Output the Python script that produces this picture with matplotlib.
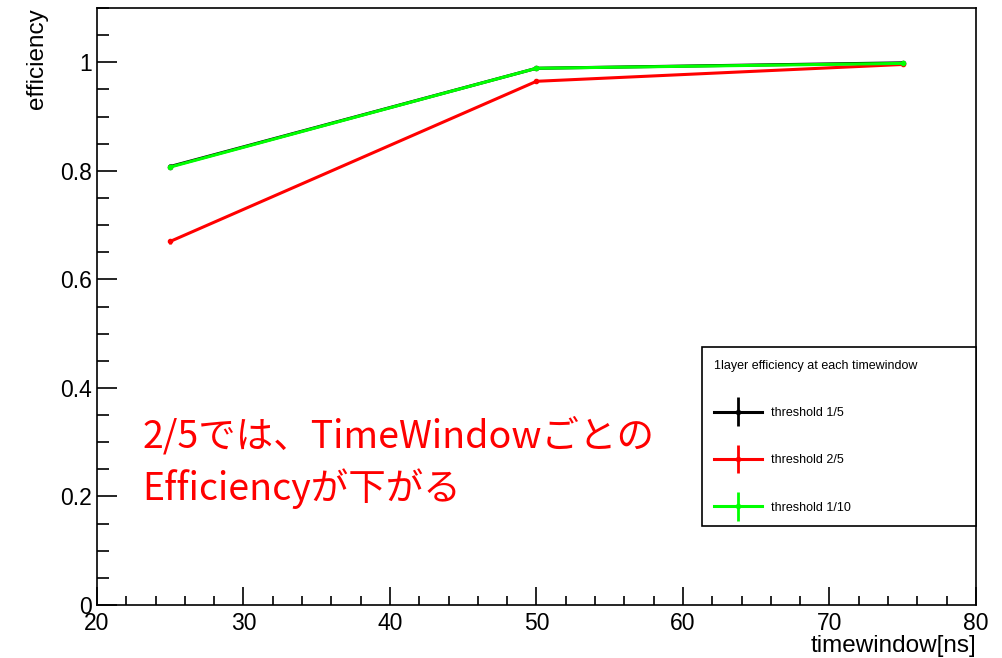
import matplotlib.pyplot as plt
from matplotlib.container import ErrorbarContainer
from matplotlib.legend_handler import HandlerErrorbar

plt.rcParams['font.family'] = ['Liberation Sans', 'DejaVu Sans']

# datos
timewindow = [25, 50, 75]
eff_1_5 = [0.808, 0.989, 0.999]
err_1_5 = [0.004, 0.002, 0.001]
eff_2_5 = [0.670, 0.965, 0.996]
err_2_5 = [0.005, 0.002, 0.001]
eff_1_10 = [0.807, 0.989, 0.998]
err_1_10 = [0.004, 0.002, 0.001]

labels = ['threshold 1/5', 'threshold 2/5', 'threshold 1/10']
colors = ['black', '#ff0000', '#00ff00']

fig = plt.figure(figsize=(10.02, 6.58), dpi=100)
ax = fig.add_axes([0.0968, 0.0805, 0.8772, 0.9073])

series = [(eff_1_5, err_1_5), (eff_2_5, err_2_5), (eff_1_10, err_1_10)]
for (y, e), lab, c in zip(series, labels, colors):
    ax.errorbar(timewindow, y, yerr=e, color=c, lw=2.2, marker='o', ms=3,
                elinewidth=2, capsize=0, label=lab)

ax.set_xlim(20, 80)
ax.set_ylim(0, 1.1)
ax.set_xticks([20, 30, 40, 50, 60, 70, 80])
ax.set_xticks([x for x in range(20, 81, 2)], minor=True)
ax.set_yticks([0, 0.2, 0.4, 0.6, 0.8, 1])
ax.set_yticklabels(['0', '0.2', '0.4', '0.6', '0.8', '1'])
ax.set_yticks([i * 0.05 for i in range(23)], minor=True)
ax.tick_params(which='both', direction='in', width=1.2, top=False, right=False)
ax.tick_params(labelsize=16.5)
ax.tick_params(axis='y', which='major', length=14.4, pad=3.6)
ax.tick_params(axis='y', which='minor', length=8.6)
ax.tick_params(axis='x', which='major', length=13, pad=5)
ax.tick_params(axis='x', which='minor', length=6.5)
for s in ax.spines.values():
    s.set_linewidth(1.2)

ax.set_xlabel('timewindow[ns]', loc='right', fontsize=17.5, labelpad=0)
ax.set_ylabel('efficiency', loc='top', fontsize=17.5, labelpad=9)

leg = ax.legend(title='1layer efficiency at each timewindow', loc='center left',
                bbox_to_anchor=(0.688, 0.127, 0.312, 0.310), mode='expand',
                fontsize=9, title_fontsize=9, alignment='left',
                fancybox=False, edgecolor='black', framealpha=1,
                handlelength=3.85, handletextpad=0.7, labelspacing=2.82,
                borderpad=1.0, borderaxespad=0,
                handler_map={ErrorbarContainer: HandlerErrorbar(yerr_size=1.15)})
leg.get_frame().set_linewidth(1.2)

ax.text(23.1, 0.261, '2/5では、TimeWindowごとの\nEfficiencyが下がる', color='#ff0000',
        fontsize=27, va='center', ha='left', linespacing=1.35,
        family=['Noto Sans CJK JP', 'DejaVu Sans'])

fig.savefig('out.png', dpi=100)
